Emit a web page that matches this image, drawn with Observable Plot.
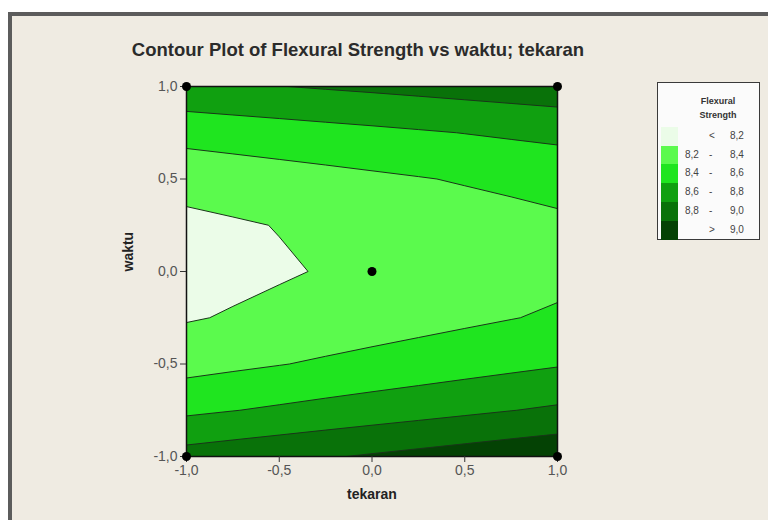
<!DOCTYPE html>
<html><head><meta charset="utf-8">
<script src="https://cdn.jsdelivr.net/npm/d3@7"></script>
<script src="https://cdn.jsdelivr.net/npm/@observablehq/plot@0.6"></script>
<style>
html,body{margin:0;padding:0;background:#fff;}
#wrap{position:relative;width:768px;height:520px;overflow:hidden;font-family:"Liberation Sans",Arial,sans-serif;}
#panel{position:absolute;left:8px;top:12px;width:800px;height:560px;background:#efebe2;border-left:4px solid #5c5c5c;border-top:4px solid #5c5c5c;}
#chart{position:absolute;left:0;top:0;}
#title{position:absolute;left:0;width:716px;top:39px;line-height:22px;text-align:center;font-weight:bold;font-size:18.5px;color:#2b2b2b;white-space:nowrap;}
#legend{position:absolute;left:657px;top:82px;width:101px;height:156px;background:#fbfbfb;border:1.5px solid #3a3a3a;font-size:10px;color:#444;}
#legend .hd{position:absolute;left:20px;width:80px;text-align:center;font-weight:bold;font-size:9px;color:#333;}
#legend .sw{position:absolute;left:3px;width:17px;}
#legend .t{position:absolute;white-space:nowrap;}
</style></head>
<body>
<div id="wrap">
  <div id="panel"></div>
  <div id="chart"></div>
  <div id="title">Contour Plot of Flexural Strength vs waktu; tekaran</div>
  <div id="legend"></div>
</div>
<script>
// grid positions (coded units)
const tekaran = [-1, -0.75, -0.5, -0.25, 0, 0.25, 0.5, 0.75, 1];
const waktu = [-1, -0.75, -0.5, -0.25, 0, 0.25, 0.5, 0.75, 1];
// Flexural Strength, one row per waktu (bottom -> top), columns per tekaran
const strengthW_m100 = [8.879, 8.914, 8.949, 8.984, 9.020, 9.055, 9.090, 9.126, 9.161];
const strengthW_m075 = [8.561, 8.595, 8.628, 8.662, 8.695, 8.728, 8.762, 8.796, 8.829];
const strengthW_m050 = [8.330, 8.362, 8.393, 8.425, 8.457, 8.488, 8.520, 8.552, 8.584];
const strengthW_m025 = [8.185, 8.215, 8.245, 8.275, 8.304, 8.334, 8.364, 8.394, 8.424];
const strengthW_000 = [8.126, 8.154, 8.182, 8.211, 8.239, 8.267, 8.295, 8.323, 8.351];
const strengthW_p025 = [8.154, 8.180, 8.206, 8.233, 8.259, 8.285, 8.312, 8.338, 8.364];
const strengthW_p050 = [8.268, 8.292, 8.317, 8.341, 8.366, 8.390, 8.415, 8.439, 8.464];
const strengthW_p075 = [8.468, 8.491, 8.513, 8.536, 8.558, 8.581, 8.604, 8.627, 8.649];
const strengthW_p100 = [8.754, 8.775, 8.796, 8.817, 8.837, 8.858, 8.879, 8.900, 8.921];
// contour levels and colours
const levels = [8.2, 8.4, 8.6, 8.8, 9.0];
const levelColors = ["#ebfce8", "#5bfa4d", "#1fe51f", "#10a010", "#097209", "#044204"];
// design points
const designTekaran = [-1, 1, -1, 1, 0];
const designWaktu = [-1, -1, 1, 1, 0];
// axis ticks
const axisTicks = [-1, -0.5, 0, 0.5, 1];

const rows = [strengthW_m100, strengthW_m075, strengthW_m050, strengthW_m025, strengthW_000,
              strengthW_p025, strengthW_p050, strengthW_p075, strengthW_p100];
const values = rows.flat();
const step = tekaran[1] - tekaran[0];
const stepW = waktu[1] - waktu[0];
const fmt = d => d3.format(".1f")(d).replace(".", ",").replace("\u2212", "-");
const design = designTekaran.map((x, i) => ({x, y: designWaktu[i]}));

const plot = Plot.plot({
  width: 768, height: 520,
  marginLeft: 186, marginRight: 211, marginTop: 86, marginBottom: 64,
  style: {background: "transparent", fontFamily: "Liberation Sans, Arial, sans-serif"},
  x: {domain: [-1, 1]},
  y: {domain: [-1, 1]},
  color: {type: "threshold", domain: levels, range: levelColors},
  marks: [
    Plot.frame({fill: levelColors[0]}),
    Plot.contour(values, {
      width: tekaran.length, height: waktu.length,
      x1: tekaran[0] - step / 2, x2: tekaran[tekaran.length - 1] + step / 2,
      y1: waktu[0] - stepW / 2, y2: waktu[waktu.length - 1] + stepW / 2,
      fill: Plot.identity, thresholds: levels,
      stroke: "#1a351a", strokeWidth: 1, clip: "frame"
    }),
    Plot.frame({stroke: "#111", strokeWidth: 1.5}),
    Plot.axisX({ticks: axisTicks, tickFormat: fmt, tickSize: 6, label: null, fontSize: 14, fill: "#555", stroke: "#333"}),
    Plot.axisY({ticks: axisTicks, tickFormat: fmt, tickSize: 6, label: null, fontSize: 14, fill: "#555", stroke: "#333"}),
    Plot.dot(design, {x: "x", y: "y", r: 4.5, fill: "#000"}),
    Plot.text(["tekaran"], {frameAnchor: "bottom", dy: 42, fontWeight: "bold", fontSize: 14, fill: "#222"}),
    Plot.text(["waktu"], {frameAnchor: "left", dx: -58, rotate: -90, fontWeight: "bold", fontSize: 14, fill: "#222"})
  ]
});
document.getElementById("chart").appendChild(plot);

// legend
const lg = document.getElementById("legend");
const add = (cls, txt, css) => { const d = document.createElement("div"); d.className = cls; d.textContent = txt; Object.assign(d.style, css); lg.appendChild(d); };
add("hd", "Flexural", {top: "13px"});
add("hd", "Strength", {top: "27px"});
const rowH = 18.7, top0 = 44;
levelColors.forEach((c, i) => {
  const y = top0 + i * rowH;
  add("sw", "", {top: y + "px", height: (rowH + 0.5) + "px", background: c});
  let a = "", m = "", b = "";
  if (i === 0) { m = "<"; b = fmt(levels[0]); }
  else if (i === levelColors.length - 1) { m = ">"; b = fmt(levels[levels.length - 1]); }
  else { a = fmt(levels[i - 1]); m = "-"; b = fmt(levels[i]); }
  const ty = (y + 3) + "px";
  if (a) add("t", a, {top: ty, left: "27px"});
  add("t", m, {top: ty, left: "51px"});
  add("t", b, {top: ty, left: "72px"});
});
</script>
</body></html>
